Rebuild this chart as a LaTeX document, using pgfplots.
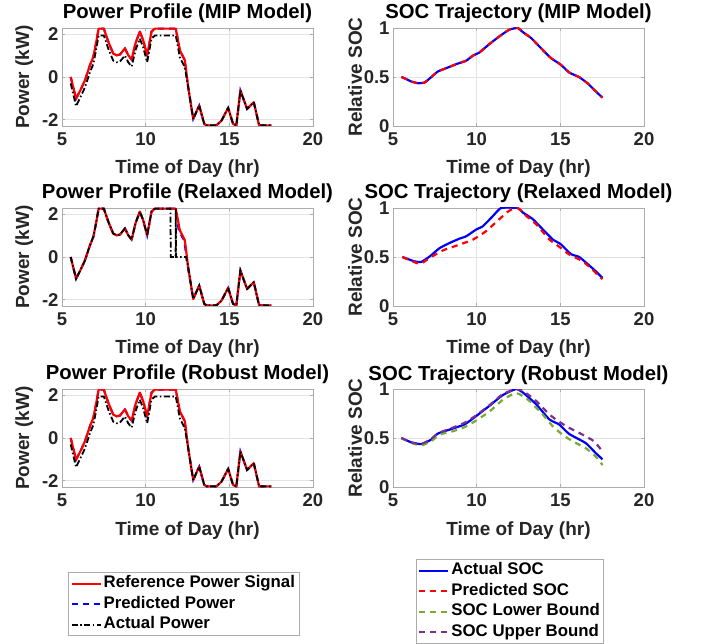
\documentclass[border=0pt]{standalone}
\usepackage{fontspec}
\setmainfont{Liberation Sans}
\usepackage{pgfplots}
\pgfplotsset{compat=1.18}
\usepackage{pgfplotstable}

\definecolor{mgreen}{rgb}{0.466,0.674,0.188}
\definecolor{mpurple}{rgb}{0.494,0.184,0.556}
\definecolor{axgray}{gray}{0.15}

% reference power signal (also predicted power, MIP / robust)
\pgfplotstableread{
t P
5.52 0.00
5.84 -1.02
6.10 -0.62
6.37 -0.16
6.67 0.55
6.87 0.94
7.03 1.57
7.19 2.27
7.50 2.27
7.77 1.65
8.06 1.10
8.26 1.02
8.46 1.05
8.76 1.34
8.96 1.02
9.16 0.82
9.40 1.60
9.65 2.13
9.85 1.73
10.09 1.02
10.35 2.13
10.55 2.27
11.80 2.27
12.04 1.26
12.24 0.94
12.34 0.79
12.54 -0.47
12.84 -1.97
13.20 -1.34
13.50 -2.20
13.65 -2.27
14.23 -2.27
14.53 -2.05
14.93 -1.45
15.22 -2.20
15.42 -2.27
15.66 -0.63
16.06 -1.50
16.46 -1.18
16.78 -2.27
17.51 -2.27
}\refP

% actual power, MIP and robust
\pgfplotstableread{
t P
5.52 -0.30
5.84 -1.37
6.10 -0.95
6.37 -0.49
6.67 0.22
6.87 0.61
7.03 1.24
7.19 1.95
7.50 1.95
7.77 1.32
8.06 0.77
8.26 0.69
8.46 0.72
8.76 1.01
8.96 0.69
9.16 0.49
9.40 1.27
9.65 1.80
9.85 1.40
10.09 0.69
10.35 1.80
10.55 1.95
11.80 1.95
12.04 0.93
12.24 0.61
12.34 0.46
12.54 -0.47
12.84 -1.97
13.20 -1.34
13.50 -2.20
13.65 -2.27
14.23 -2.27
14.53 -2.05
14.93 -1.45
15.22 -2.20
15.42 -2.27
15.66 -0.63
16.06 -1.50
16.46 -1.18
16.78 -2.27
17.51 -2.27
}\actMIP

% actual power, relaxed
\pgfplotstableread{
t P
5.52 0.00
5.84 -1.02
6.10 -0.62
6.37 -0.16
6.67 0.55
6.87 0.94
7.03 1.57
7.19 2.27
7.50 2.27
7.77 1.65
8.06 1.10
8.26 1.02
8.46 1.05
8.76 1.34
8.96 1.02
9.16 0.82
9.40 1.60
9.65 2.13
9.85 1.73
10.09 1.02
10.35 2.13
10.55 2.27
11.48 2.27
11.50 0.00
11.79 0.00
11.80 2.27
11.81 0.00
12.42 0.00
12.54 -0.47
12.84 -1.97
13.20 -1.34
13.50 -2.20
13.65 -2.27
14.23 -2.27
14.53 -2.05
14.93 -1.45
15.22 -2.20
15.42 -2.27
15.66 -0.63
16.06 -1.50
16.46 -1.18
16.78 -2.27
17.51 -2.27
}\actRel

% predicted power, relaxed
\pgfplotstableread{
t P
5.52 0.00
5.84 -1.02
6.10 -0.62
6.37 -0.16
6.67 0.55
6.87 0.94
7.03 1.57
7.19 2.27
7.50 2.27
7.77 1.65
8.06 1.10
8.26 1.02
8.46 1.05
8.76 1.34
8.96 1.02
9.16 0.82
9.40 1.60
9.65 2.13
9.85 1.73
10.09 1.02
10.35 2.13
10.55 2.27
11.76 2.27
11.98 1.26
12.18 0.94
12.30 0.79
12.52 -0.47
12.84 -1.97
13.20 -1.34
13.50 -2.20
13.65 -2.27
14.23 -2.27
14.53 -2.05
14.93 -1.45
15.22 -2.20
15.42 -2.27
15.66 -0.63
16.06 -1.50
16.46 -1.18
16.78 -2.27
17.51 -2.27
}\predRel

% SOC, MIP (actual = predicted)
\pgfplotstableread{
t S
5.50 0.500
5.80 0.478
6.09 0.454
6.49 0.437
6.89 0.444
7.28 0.498
7.68 0.556
8.18 0.590
8.78 0.631
9.37 0.666
9.77 0.717
10.17 0.751
10.76 0.836
11.36 0.915
11.95 0.983
12.45 1.000
12.75 0.959
13.25 0.898
13.84 0.795
14.44 0.693
15.03 0.625
15.53 0.546
16.13 0.498
16.62 0.437
17.12 0.352
17.52 0.290
}\socMIP

% SOC, relaxed, actual
\pgfplotstableread{
t S
5.56 0.500
6.29 0.455
6.69 0.450
7.19 0.505
7.78 0.590
8.38 0.643
8.97 0.687
9.37 0.711
9.97 0.780
10.37 0.814
10.97 0.918
11.46 1.000
12.45 1.000
12.75 0.955
13.35 0.887
13.94 0.784
14.54 0.680
15.03 0.630
15.63 0.530
16.13 0.500
16.62 0.430
17.12 0.354
17.52 0.285
}\socRelA

% SOC, relaxed, predicted
\pgfplotstableread{
t S
5.56 0.500
6.39 0.440
6.69 0.433
7.19 0.490
7.98 0.567
8.78 0.615
9.77 0.677
10.56 0.763
11.36 0.887
11.95 0.973
12.45 1.000
12.95 0.921
13.55 0.835
14.34 0.680
14.93 0.605
15.53 0.526
16.33 0.457
16.92 0.371
17.32 0.302
17.52 0.275
}\socRelP

% SOC, robust, actual
\pgfplotstableread{
t S
5.50 0.500
6.10 0.455
6.69 0.438
7.28 0.483
7.68 0.545
8.38 0.586
9.27 0.638
9.97 0.724
10.76 0.828
11.56 0.938
12.35 1.000
12.75 0.966
13.55 0.845
14.34 0.690
14.93 0.638
15.53 0.541
16.52 0.448
17.12 0.345
17.52 0.283
}\socRobA

% SOC, robust, lower bound
\pgfplotstableread{
t S
5.50 0.500
6.10 0.450
6.69 0.424
7.28 0.466
7.78 0.534
8.58 0.569
9.27 0.610
9.97 0.679
10.76 0.769
11.56 0.890
12.25 0.955
12.55 0.948
13.15 0.879
13.94 0.741
14.54 0.621
15.13 0.534
15.73 0.466
16.52 0.397
17.12 0.310
17.52 0.224
}\socRobL

% SOC, robust, upper bound
\pgfplotstableread{
t S
5.50 0.500
6.10 0.455
6.69 0.438
7.28 0.490
7.68 0.548
8.38 0.593
9.27 0.655
9.97 0.731
10.76 0.834
11.56 0.948
12.35 1.000
12.75 0.983
13.55 0.879
14.34 0.741
14.93 0.666
15.53 0.603
16.33 0.534
17.02 0.466
17.52 0.362
}\socRobU

\pgfplotsset{
  panel/.style={
    scale only axis, width=251pt, height=98pt,
    xmin=5, xmax=20, xtick={5,10,15,20},
    grid=major, grid style={gray!22, line width=0.6pt},
    axis line style={gray!65, line width=0.8pt},
    major tick length=3pt, tick align=inside,
    tick style={gray!65, line width=0.8pt},
    /pgf/number format/assume math mode=true,
    ticklabel style={font=\fontsize{18.5}{20}\selectfont\bfseries, text=axgray},
    xticklabel style={yshift=-3pt},
    label style={font=\fontsize{19}{21}\selectfont\bfseries, text=axgray},
    title style={font=\fontsize{20.3}{22}\selectfont\bfseries,
      at={(axis description cs:0.5,1)}, anchor=base, yshift=3pt},
    xlabel={Time of Day (hr)},
    xlabel style={at={(axis description cs:0.5,0)}, anchor=base, yshift=-48pt},
    ylabel style={at={(axis description cs:-0.151,0.5)}, anchor=center},
    legend image code/.code={\draw[##1] (0pt,0pt) -- (29pt,0pt);},
    legend cell align=left,
  },
  powpanel/.style={panel, ymin=-2.3, ymax=2.3, ytick={-2,0,2}, ylabel={Power (kW)}},
  socpanel/.style={panel, ymin=0, ymax=1, ytick={0,0.5,1}, ylabel={Relative SOC}},
  sm/.style={smooth, tension=0.3},
  refline/.style={red, line width=2.2pt, line join=round},
  predline/.style={blue, line width=2pt, dash pattern=on 6pt off 5pt},
  actline/.style={black, line width=1.8pt, dash pattern=on 6pt off 2.5pt on 1.5pt off 2.5pt},
  socA/.style={blue, line width=2.2pt, line join=round},
  socP/.style={red, line width=2.2pt, dash pattern=on 6pt off 5pt},
  socL/.style={mgreen, line width=2.2pt, dash pattern=on 6pt off 5pt},
  socU/.style={mpurple, line width=2.2pt, dash pattern=on 6pt off 5pt},
  legbox/.style={legend style={draw=gray!65, line width=0.8pt,
    font=\fontsize{16.8}{18}\selectfont\bfseries, row sep=0pt,
    inner xsep=2pt, inner ysep=1pt,
    nodes={inner sep=2pt, text height=12.5pt, text depth=4pt}}},
}

\begin{document}
\begin{tikzpicture}
\useasboundingbox (0pt,0pt) rectangle (704pt,643pt);

% ---- row 1
\begin{axis}[powpanel, at={(62pt,517pt)}, anchor=south west, title={Power Profile (MIP Model)}]
\addplot[predline] table {\refP};
\addplot[refline] table {\refP};
\addplot[actline] table {\actMIP};
\end{axis}
\begin{axis}[socpanel, at={(393pt,517pt)}, anchor=south west, title={SOC Trajectory (MIP Model)}]
\addplot[socA, sm] table {\socMIP};
\addplot[socP, sm] table {\socMIP};
\end{axis}

% ---- row 2
\begin{axis}[powpanel, at={(62pt,337pt)}, anchor=south west, title={Power Profile (Relaxed Model)}]
\addplot[predline] table {\predRel};
\addplot[refline] table {\refP};
\addplot[actline] table {\actRel};
\end{axis}
\begin{axis}[socpanel, at={(393pt,337pt)}, anchor=south west, title={SOC Trajectory (Relaxed Model)}]
\addplot[socA, sm] table {\socRelA};
\addplot[socP, sm] table {\socRelP};
\end{axis}

% ---- row 3
\begin{axis}[powpanel, legbox, at={(62pt,156pt)}, anchor=south west, title={Power Profile (Robust Model)},
  legend style={at={(0.024,-0.867)}, anchor=north west}]
\addplot[predline, forget plot] table {\refP};
\addplot[refline, forget plot] table {\refP};
\addplot[actline, forget plot] table {\actMIP};
\addlegendimage{refline}
\addlegendentry{Reference Power Signal}
\addlegendimage{predline}
\addlegendentry{Predicted Power}
\addlegendimage{actline}
\addlegendentry{Actual Power}
\end{axis}
\begin{axis}[socpanel, legbox, at={(393pt,156pt)}, anchor=south west, title={SOC Trajectory (Robust Model)},
  legend style={at={(0.091,-0.735)}, anchor=north west}]
\addplot[socA, sm] table {\socRobA};
\addlegendentry{Actual SOC}
\addlegendimage{socP}
\addlegendentry{Predicted SOC}
\addplot[socL, sm] table {\socRobL};
\addlegendentry{SOC Lower Bound}
\addplot[socU, sm] table {\socRobU};
\addlegendentry{SOC Upper Bound}
\end{axis}
\end{tikzpicture}
\end{document}
